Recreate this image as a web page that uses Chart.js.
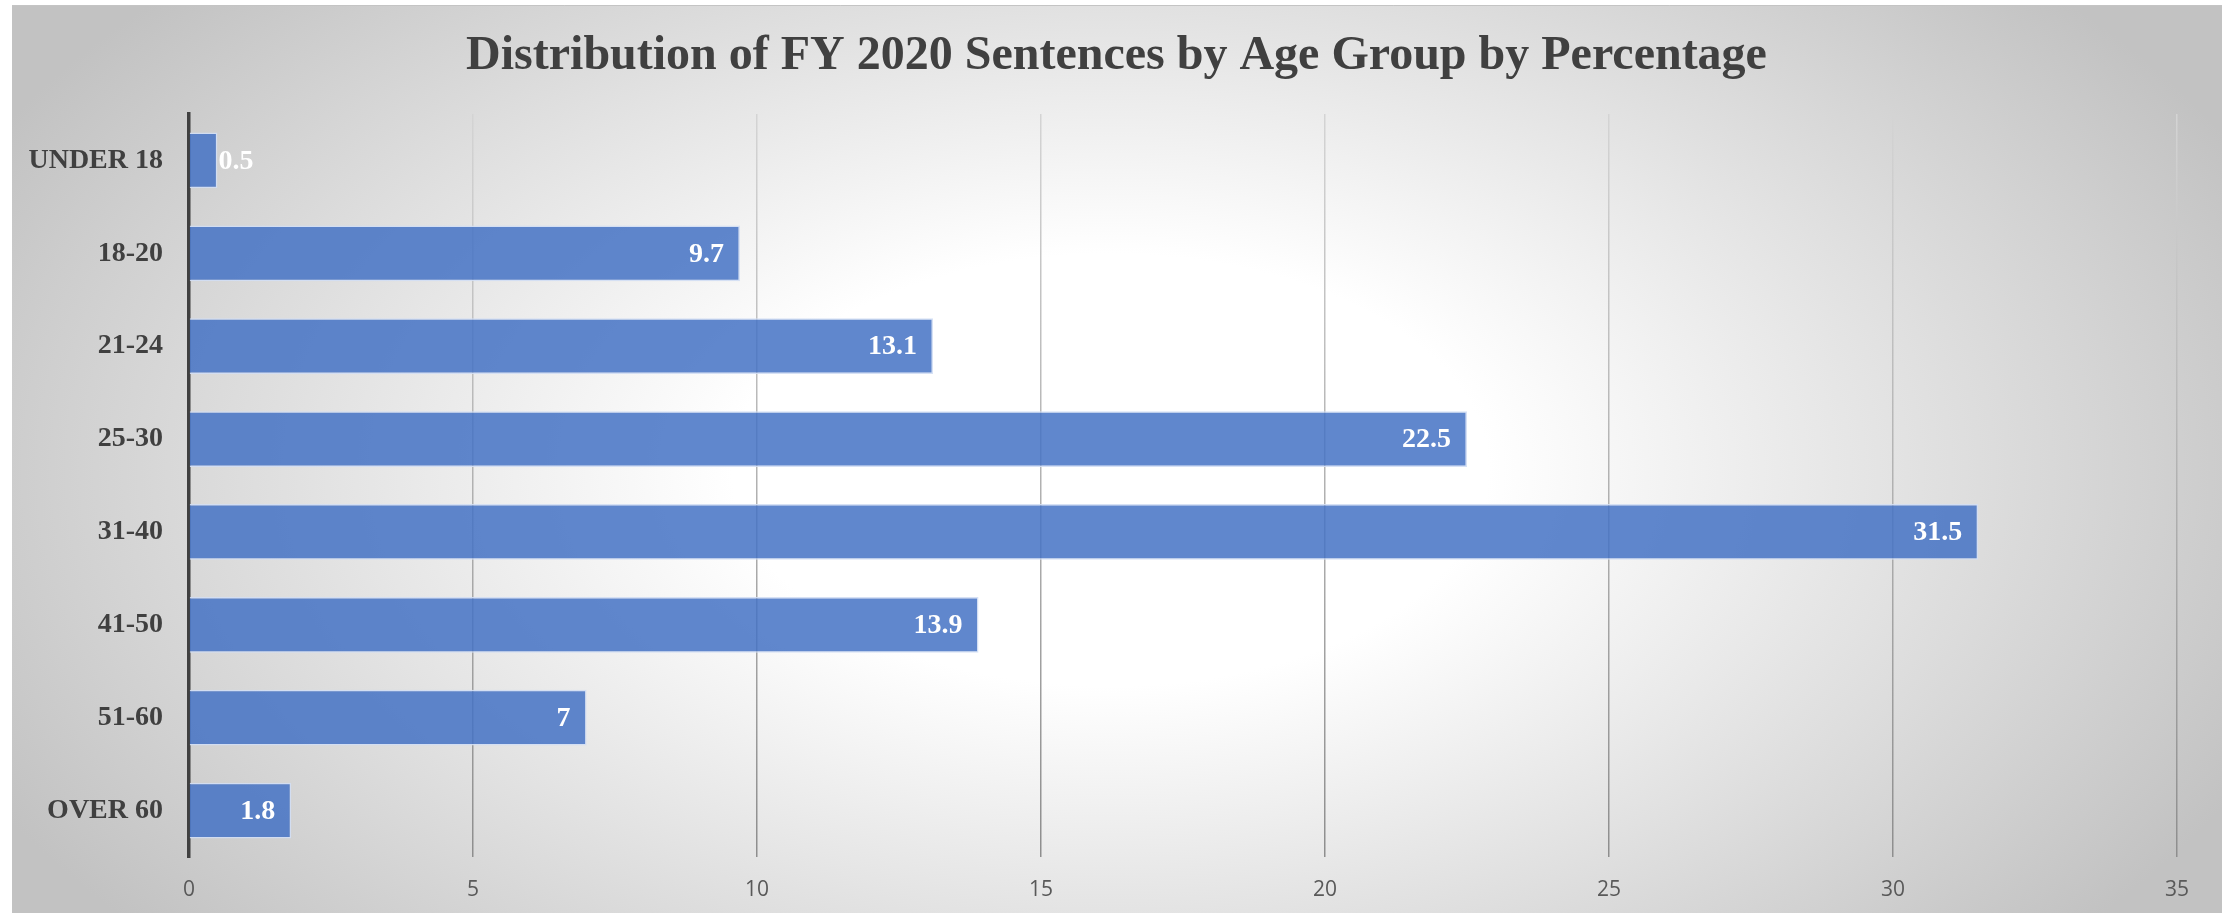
<!DOCTYPE html>
<html>
<head>
<meta charset="utf-8">
<title>Distribution of FY 2020 Sentences by Age Group by Percentage</title>
<script src="https://cdn.jsdelivr.net/npm/chart.js@4/dist/chart.umd.min.js"></script>
<style>
    html, body { margin: 0; padding: 0; background: #ffffff; }
    canvas { display: block; }
</style>
</head>
<body>
<canvas id="ageChartCanvas" width="2233" height="913" style="width:2233px;height:913px"></canvas>
<script>
var chartTitle = 'Distribution of FY 2020 Sentences by Age Group by Percentage';
var ageGroups = ['UNDER 18', '18-20', '21-24', '25-30', '31-40', '41-50', '51-60', 'OVER 60'];
var percentages = [0.5, 9.7, 13.1, 22.5, 31.5, 13.9, 7, 1.8];
var xTicks = [0, 5, 10, 15, 20, 25, 30, 35];

var serif = '"Liberation Serif", "Times New Roman", serif';

// grey card with the light radial spot, drawn under everything
var cardBackground = {
    id: 'cardBackground',
    beforeDraw: function (chart) {
        var ctx = chart.ctx;
        ctx.save();
        ctx.fillStyle = '#ffffff';
        ctx.fillRect(0, 0, chart.width, chart.height);
        ctx.beginPath();
        ctx.rect(12, 5, 2210, 908);
        ctx.clip();
        ctx.translate(1110, 470);
        ctx.scale(1.75, 1);
        var g = ctx.createRadialGradient(0, 0, 0, 0, 0, 720);
        g.addColorStop(0, '#ffffff');
        g.addColorStop(0.3, '#ffffff');
        g.addColorStop(1, '#c2c2c2');
        ctx.fillStyle = g;
        ctx.fillRect(-2000, -1000, 4000, 2000);
        ctx.restore();

        ctx.save();
        ctx.strokeStyle = '#c4c4c4';
        ctx.lineWidth = 1;
        ctx.beginPath();
        ctx.moveTo(12, 5.5);
        ctx.lineTo(2222, 5.5);
        ctx.stroke();
        ctx.restore();
    }
};

// title centred on the whole page, not on the plot
var pageTitle = {
    id: 'pageTitle',
    afterDraw: function (chart) {
        var ctx = chart.ctx;
        ctx.save();
        ctx.font = 'bold 48px ' + serif;
        ctx.fillStyle = '#404040';
        ctx.textAlign = 'center';
        ctx.textBaseline = 'middle';
        ctx.fillText(chartTitle, chart.width / 2, 56.5);
        ctx.restore();
    }
};

// value labels: inside the bar end, or just past it when the bar is too short
var barValueLabels = {
    id: 'barValueLabels',
    afterDatasetsDraw: function (chart) {
        var ctx = chart.ctx;
        var meta = chart.getDatasetMeta(0);
        ctx.save();
        ctx.font = 'bold 28px ' + serif;
        ctx.fillStyle = '#ffffff';
        ctx.textBaseline = 'middle';
        meta.data.forEach(function (bar, i) {
            var text = String(percentages[i]);
            var w = ctx.measureText(text).width;
            if (bar.x - bar.base > w + 24) {
                ctx.textAlign = 'right';
                ctx.fillText(text, bar.x - 16, bar.y + 1);
            } else {
                ctx.textAlign = 'left';
                ctx.fillText(text, bar.x + 1, bar.y + 1);
            }
        });
        ctx.restore();
    }
};

function gridColor(context) {
    var area = context.chart.chartArea;
    if (!area) {
        return '#b0b0b0';
    }
    var g = context.chart.ctx.createLinearGradient(0, area.top, 0, area.bottom);
    g.addColorStop(0, '#d4d4d4');
    g.addColorStop(1, '#8e8e8e');
    return g;
}

var ctx = document.getElementById('ageChartCanvas');
var chart = new Chart(ctx, {
    type: 'bar',
    data: {
        labels: ageGroups,
        datasets: [{
            data: percentages,
            backgroundColor: 'rgba(68, 114, 196, 0.85)',
            borderColor: 'rgba(210, 222, 244, 0.9)',
            borderWidth: 1.5,
            barPercentage: 0.6,
            categoryPercentage: 1
        }]
    },
    plugins: [cardBackground, barValueLabels, pageTitle],
    options: {
        responsive: false,
        animation: false,
        indexAxis: 'y',
        layout: {
            padding: { left: 0, right: 56, top: 114, bottom: 0 }
        },
        plugins: {
            legend: { display: false },
            tooltip: { enabled: false },
            title: { display: false }
        },
        scales: {
            x: {
                min: xTicks[0],
                max: xTicks[xTicks.length - 1],
                grid: { color: gridColor, lineWidth: 1.5, drawTicks: false },
                border: { display: false },
                ticks: {
                    stepSize: xTicks[1] - xTicks[0],
                    color: '#595959',
                    font: { family: '"Open Sans", sans-serif', size: 21 },
                    padding: 20
                },
                afterFit: function (scale) { scale.height = 56; }
            },
            y: {
                z: 1,
                grid: { color: 'rgba(0,0,0,0)', drawTicks: false },
                border: { display: true, color: '#404040', width: 3.5 },
                ticks: {
                    color: '#404040',
                    font: { family: serif, size: 28, weight: 'bold' },
                    padding: 26
                },
                afterFit: function (scale) { scale.width = 189; }
            }
        }
    }
});
</script>
</body>
</html>
